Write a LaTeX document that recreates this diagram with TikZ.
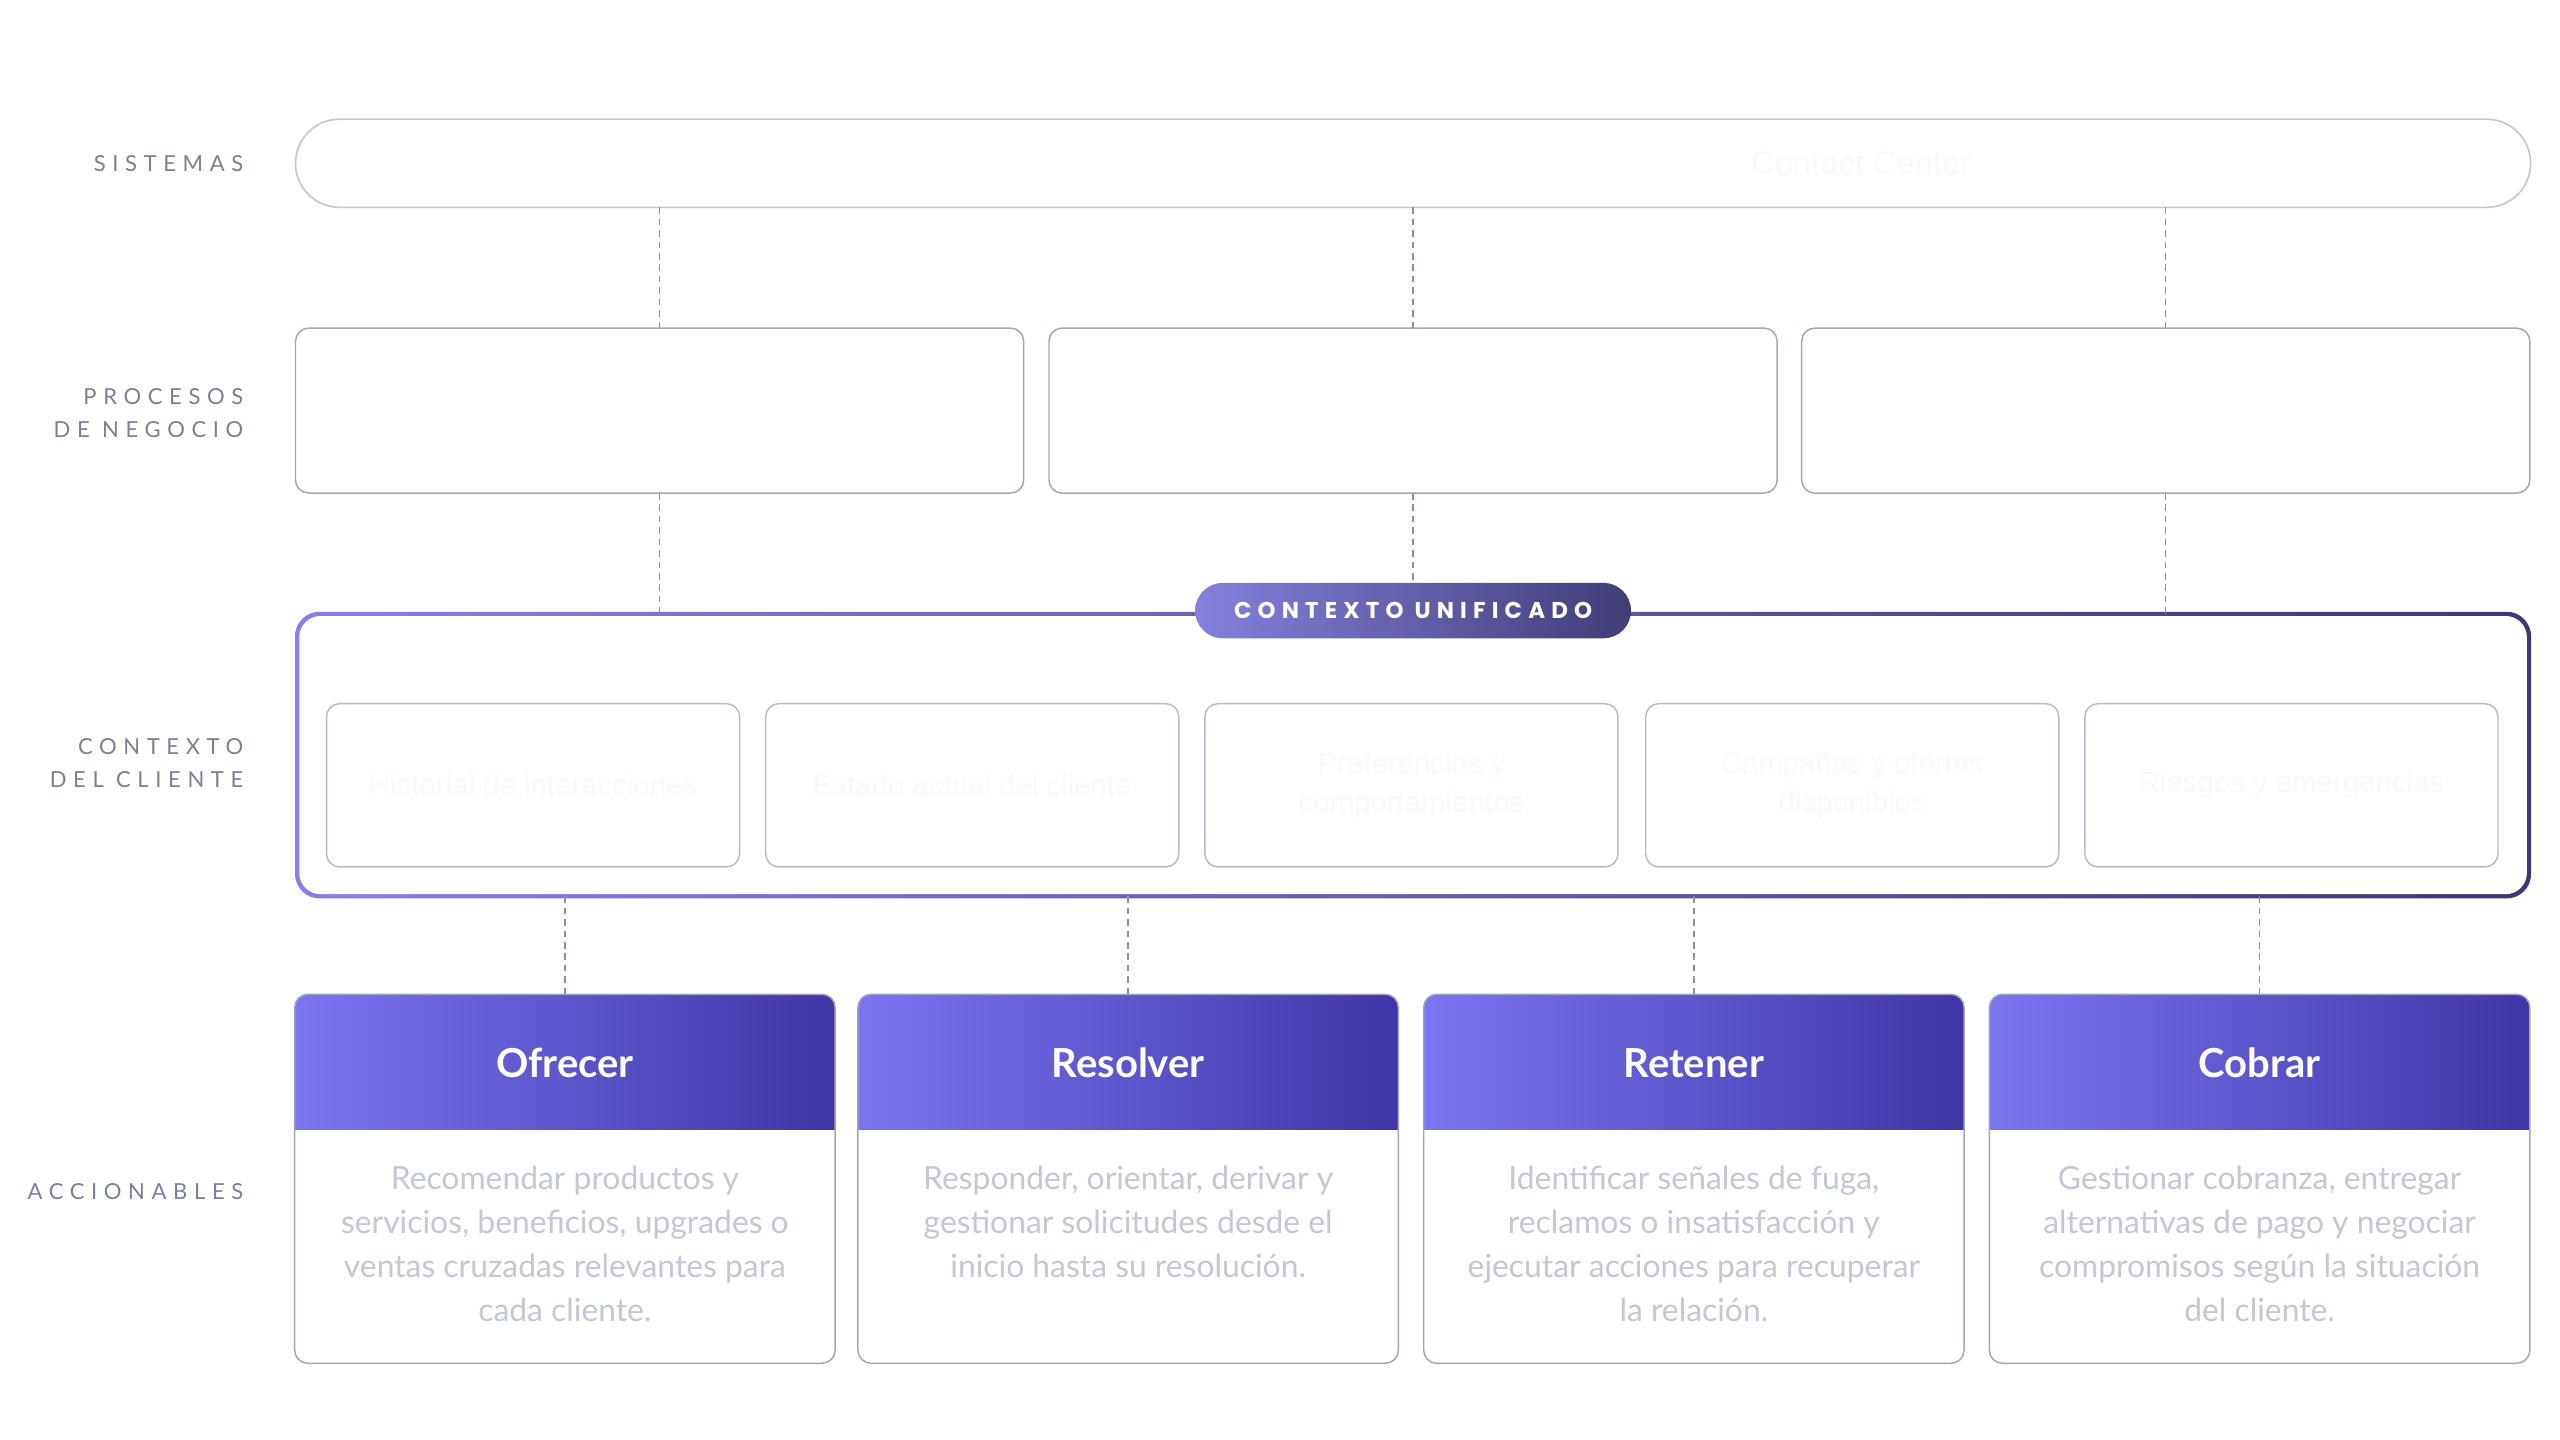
\documentclass[tikz,border=0pt]{standalone}
\usepackage{fontspec}
\setmainfont{Lato}
\newfontfamily\layerfont{Lato}[LetterSpace=30]
\newfontfamily\pillfont{Poppins}[LetterSpace=27]
\newfontfamily\ghostfont{Liberation Sans}
\usetikzlibrary{positioning}
\usetikzlibrary{calc}

\definecolor{layertxt}{HTML}{7A8197}
\definecolor{dashcol}{HTML}{8A8FA6}
\definecolor{barline}{HTML}{C6C6CB}
\definecolor{boxline}{HTML}{A2A6BA}
\definecolor{cellline}{HTML}{B7BACA}
\definecolor{ghost}{HTML}{F9F9FB}
\definecolor{ringL}{HTML}{8A7EE8}
\definecolor{ringR}{HTML}{3B3976}
\definecolor{pillL}{HTML}{8580DC}
\definecolor{pillR}{HTML}{403E78}
\definecolor{headL}{HTML}{7B75F0}
\definecolor{headR}{HTML}{3F35A6}
\definecolor{desctxt}{HTML}{C3C7D6}

\begin{document}
\begin{tikzpicture}[x=1pt, y=-1pt,
    every node/.style={inner sep=0pt, outer sep=0pt},
    layerlabel/.style={anchor=east, align=right, text=layertxt, font=\layerfont\fontsize{13.5}{20}\selectfont},
    conn/.style={draw=dashcol, line width=0.9pt, dash pattern=on 4pt off 3pt},
    sysbar/.style={draw=barline, line width=1pt, rounded corners=27pt, minimum width=1369pt, minimum height=54pt},
    procbox/.style={draw=boxline, line width=0.9pt, rounded corners=8pt, minimum width=446pt, minimum height=101pt},
    cellbox/.style={draw=cellline, line width=0.9pt, rounded corners=8pt, minimum width=253pt, minimum height=100pt},
    ghosttxt/.style={text=ghost, align=center, font=\ghostfont\fontsize{18}{24}\selectfont},
    pill/.style={left color=pillL, right color=pillR, rounded corners=17pt, minimum width=267pt, minimum height=34pt, text=white, font=\pillfont\bfseries\fontsize{14}{14}\selectfont},
    actbox/.style={minimum width=331pt, minimum height=226pt},
    acttitle/.style={anchor=base, text=white, font=\bfseries\fontsize{24.5}{26}\selectfont},
    actdesc/.style={anchor=north, align=center, text=desctxt, font=\fontsize{19.5}{27}\selectfont}
  ]

  % Canvas
  \path[use as bounding box, fill=white] (0,0) rectangle (1568,882);

  % Layer labels
  \node[layerlabel] (lsis) at (149,100) {SISTEMAS};
  \node[layerlabel] (lproc) at (149,253) {PROCESOS\\DE NEGOCIO};
  \node[layerlabel] (lctx) at (149,467.5) {CONTEXTO\\DEL CLIENTE};
  \node[layerlabel] (lact) at (149,730) {ACCIONABLES};

  % Sistemas bar
  \node[sysbar] (sis) at (865.5,100) {};
  \node[ghosttxt, font=\ghostfont\fontsize{20}{24}\selectfont] (cc) at (1140,100) {Contact Center};

  % Procesos de negocio
  \foreach \i/\x in {1/404, 2/865.5, 3/1326.5} {
    \node[procbox] (p\i) at (\x,251.5) {};
  }

  % Contexto unificado frame
  \node[minimum width=1367pt, minimum height=173pt] (ctx) at (865.5,462.5) {};
  \shade[left color=ringL, right color=ringR, rounded corners=15pt]
    ([shift={(-1.3,-1.3)}]ctx.north west) rectangle ([shift={(1.3,1.3)}]ctx.south east);
  \fill[white, rounded corners=13pt]
    ([shift={(1.3,1.3)}]ctx.north west) rectangle ([shift={(-1.3,-1.3)}]ctx.south east);
  \node[pill] (pill) at (865.5,374) {CONTEXTO UNIFICADO};

  % Context cells
  \foreach \i/\x/\txt in {1/326.5/Historial de interacciones, 2/595.5/Estado actual del cliente,
      3/864.5/{Preferencias y\\comportamientos}, 4/1134.5/{Campañas y ofertas\\disponibles},
      5/1403.5/Riesgos y emergencias} {
    \node[cellbox, ghosttxt] (c\i) at (\x,481) {\txt};
  }

  % Accionables
  \foreach \i/\x/\ttl/\txt in {
      1/346/Ofrecer/{Recomendar productos y\\servicios, beneficios, upgrades o\\ventas cruzadas relevantes para\\cada cliente.},
      2/691/Resolver/{Responder, orientar, derivar y\\gestionar solicitudes desde el\\inicio hasta su resolución.},
      3/1037.5/Retener/{Identificar señales de fuga,\\reclamos o insatisfacción y\\ejecutar acciones para recuperar\\la relación.},
      4/1384/Cobrar/{Gestionar cobranza, entregar\\alternativas de pago y negociar\\compromisos según la situación\\del cliente.}} {
    \node[actbox] (a\i) at (\x,722) {};
    \begin{scope}
      \clip[rounded corners=8pt] (a\i.north west) rectangle (a\i.south east);
      \shade[left color=headL, right color=headR] (a\i.north west) rectangle (a\i.east |- 0,692);
    \end{scope}
    \draw[boxline, line width=0.9pt, rounded corners=8pt] (a\i.north west) rectangle (a\i.south east);
    \node[acttitle] (t\i) at (\x,660) {\ttl};
    \node[actdesc] (d\i) at (\x,714) {\txt};
  }

  % Dashed links
  \foreach \i in {1,2,3}
    \draw[conn] (p\i.north |- sis.south) -- (p\i.north);
  \draw[conn] (p1.south) -- (p1.south |- ctx.north);
  \draw[conn] (p2.south) -- (pill.north);
  \draw[conn] (p3.south) -- (p3.south |- ctx.north);
  \foreach \i in {1,...,4}
    \draw[conn] (a\i.north |- ctx.south) -- (a\i.north);

\end{tikzpicture}
\end{document}
